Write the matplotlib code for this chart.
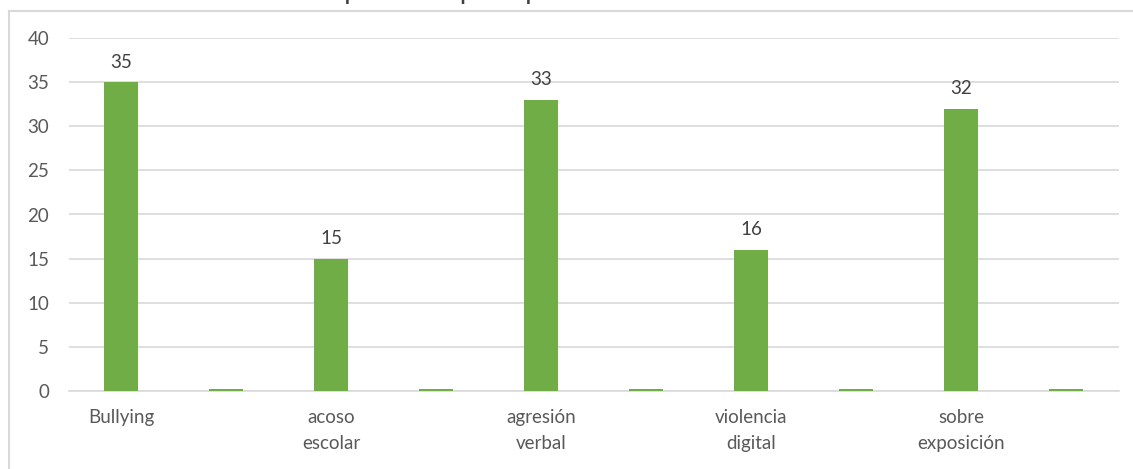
import matplotlib
matplotlib.use("Agg")
import matplotlib.pyplot as plt
from matplotlib.lines import Line2D

categories = ["Bullying", "", "acoso\nescolar", "", "agresión\nverbal", "",
              "violencia\ndigital", "", "sobre\nexposición", ""]
values = [35, 0.25, 15, 0.25, 33, 0.25, 16, 0.25, 32, 0.25]
labels = ["35", "", "15", "", "33", "", "16", "", "32", ""]
yticks = [0, 5, 10, 15, 20, 25, 30, 35, 40]
title = "Casos reportados por tipo de violencia en estudiantes"

plt.rcParams['font.family'] = ['Lato', 'DejaVu Sans']
W, H = 1133, 469
fig = plt.figure(figsize=(W / 100, H / 100), dpi=100)
ax = fig.add_axes([68.5 / W, 1 - 391 / H, 1050 / W, 353 / H])

green = "#70ad47"
txt = "#595959"
grid = "#d9d9d9"

x = list(range(len(categories)))
bars = ax.bar(x, values, width=0.33, color=green, zorder=3)
for xi, v, lab in zip(x, values, labels):
    if lab:
        ax.text(xi, v + 1.3, lab, ha="center", va="bottom", fontsize=13.5, color="#404040")

ax.set_xlim(-0.5, len(categories) - 0.5)
ax.set_ylim(0, 40)
ax.set_yticks(yticks)
ax.set_xticks(x)
ax.set_xticklabels(categories, fontsize=13.5, color=txt, linespacing=1.65)
ax.tick_params(axis="y", length=0, labelsize=13.5, labelcolor=txt, pad=14)
ax.tick_params(axis="x", length=0, pad=13)
ax.yaxis.grid(True, color=grid, linewidth=1.2, zorder=0)
ax.set_axisbelow(True)
for s in ["top", "right", "left"]:
    ax.spines[s].set_visible(False)
ax.spines["bottom"].set_color(grid)
ax.spines["bottom"].set_linewidth(1.2)

# outer chart border (top and left edges visible)
fig.add_artist(Line2D([9 / W, 1.0], [1 - 11 / H, 1 - 11 / H], color=grid, linewidth=1.5,
                      transform=fig.transFigure))
fig.add_artist(Line2D([9 / W, 9 / W], [0, 1 - 11 / H], color=grid, linewidth=1.5,
                      transform=fig.transFigure))

# title, cut off at the top edge as in the reference
fig.text(0.5, 1 + 1 / H, title, ha="center", va="baseline", fontsize=20, color="#404040")

fig.savefig("out.png", dpi=100)
